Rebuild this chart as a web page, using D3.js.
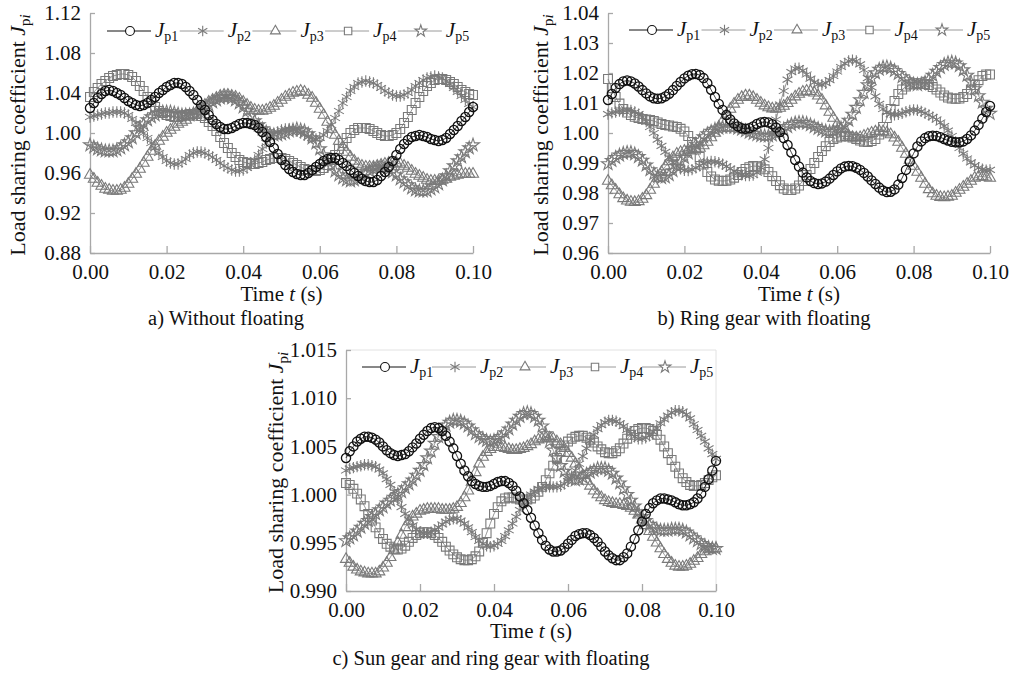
<!DOCTYPE html>
<html>
<head>
<meta charset="utf-8">
<script src="https://cdn.jsdelivr.net/npm/d3@7"></script>
<style>
  body { margin: 0; background: #fff; }
  svg { display: block; font-family: "Liberation Serif", "Times New Roman", serif; }
  text { font-family: "Liberation Serif", "Times New Roman", serif; fill: #111; }
</style>
</head>
<body>
<svg id="chart" width="1013" height="676"></svg>
<script>
// Load sharing coefficients of the five planets, sampled every 1 ms over 0–0.1 s.
const sampleStep = 0.001;
const timeTicks = [0, 0.02, 0.04, 0.06, 0.08, 0.10];
const seriesLabels = ["p1", "p2", "p3", "p4", "p5"];

// (a) Without floating
const aYTicks = [0.88, 0.92, 0.96, 1.00, 1.04, 1.08, 1.12];
const a_Jp1 = [1.025,1.030,1.035,1.039,1.042,1.043,1.042,1.040,1.038,1.035,1.032,1.030,1.028,1.027,1.028,1.030,1.033,1.036,1.040,1.043,1.046,1.048,1.050,1.050,1.049,1.046,1.042,1.038,1.033,1.028,1.023,1.018,1.013,1.009,1.006,1.004,1.004,1.005,1.007,1.009,1.010,1.010,1.009,1.008,1.005,1.001,0.996,0.991,0.985,0.979,0.973,0.968,0.964,0.961,0.959,0.958,0.958,0.960,0.963,0.966,0.969,0.972,0.974,0.975,0.975,0.973,0.970,0.967,0.963,0.960,0.957,0.954,0.952,0.951,0.951,0.953,0.957,0.961,0.966,0.972,0.978,0.984,0.989,0.993,0.996,0.997,0.998,0.997,0.996,0.994,0.993,0.992,0.993,0.995,0.999,1.003,1.007,1.012,1.016,1.021,1.026];
const a_Jp2 = [1.016,1.017,1.018,1.019,1.020,1.020,1.021,1.021,1.021,1.020,1.018,1.014,1.010,1.005,1.000,0.995,0.990,0.985,0.980,0.976,0.972,0.970,0.969,0.969,0.971,0.974,0.978,0.980,0.981,0.981,0.980,0.978,0.976,0.973,0.970,0.967,0.965,0.963,0.962,0.962,0.963,0.965,0.968,0.973,0.978,0.984,0.990,0.995,0.999,1.001,1.003,1.004,1.004,1.003,1.002,1.000,0.998,0.996,0.995,0.994,0.995,0.998,1.002,1.008,1.015,1.022,1.030,1.036,1.042,1.046,1.050,1.051,1.052,1.051,1.050,1.048,1.045,1.042,1.040,1.038,1.037,1.037,1.038,1.040,1.043,1.047,1.050,1.053,1.055,1.056,1.057,1.056,1.055,1.052,1.049,1.045,1.041,1.037,1.033,1.029,1.026];
const a_Jp3 = [0.958,0.954,0.950,0.947,0.944,0.943,0.942,0.942,0.943,0.945,0.949,0.954,0.959,0.964,0.970,0.976,0.982,0.987,0.992,0.996,1.000,1.003,1.006,1.009,1.011,1.013,1.016,1.019,1.022,1.025,1.028,1.031,1.033,1.035,1.037,1.038,1.038,1.037,1.036,1.034,1.031,1.028,1.025,1.023,1.022,1.022,1.023,1.025,1.027,1.030,1.033,1.036,1.038,1.040,1.041,1.042,1.041,1.038,1.035,1.030,1.024,1.018,1.011,1.004,0.998,0.992,0.986,0.981,0.976,0.972,0.969,0.967,0.966,0.966,0.966,0.967,0.968,0.969,0.970,0.970,0.970,0.969,0.967,0.965,0.962,0.959,0.957,0.955,0.953,0.952,0.952,0.952,0.953,0.954,0.956,0.957,0.958,0.959,0.959,0.959,0.959];
const a_Jp4 = [1.036,1.041,1.045,1.049,1.052,1.055,1.057,1.058,1.059,1.059,1.058,1.056,1.052,1.047,1.042,1.036,1.031,1.026,1.022,1.020,1.018,1.017,1.016,1.016,1.017,1.018,1.019,1.019,1.019,1.017,1.015,1.011,1.007,1.002,0.996,0.990,0.985,0.980,0.976,0.973,0.971,0.970,0.969,0.969,0.970,0.971,0.973,0.974,0.975,0.975,0.975,0.974,0.972,0.970,0.968,0.966,0.964,0.963,0.962,0.962,0.963,0.965,0.968,0.973,0.978,0.984,0.990,0.995,1.000,1.003,1.005,1.005,1.005,1.004,1.002,1.000,0.998,0.997,0.997,0.998,1.000,1.004,1.010,1.016,1.023,1.030,1.036,1.042,1.047,1.050,1.053,1.054,1.054,1.053,1.051,1.049,1.046,1.043,1.041,1.039,1.038];
const a_Jp5 = [0.988,0.986,0.984,0.983,0.982,0.982,0.982,0.983,0.985,0.988,0.991,0.995,1.000,1.005,1.009,1.013,1.016,1.018,1.020,1.021,1.021,1.021,1.020,1.019,1.018,1.018,1.018,1.019,1.020,1.022,1.025,1.028,1.031,1.033,1.035,1.036,1.036,1.035,1.033,1.030,1.026,1.022,1.017,1.012,1.008,1.004,1.001,0.999,0.998,0.998,0.999,1.000,1.002,1.003,1.004,1.003,1.002,0.999,0.995,0.990,0.984,0.978,0.972,0.967,0.962,0.958,0.955,0.953,0.952,0.953,0.954,0.956,0.959,0.962,0.964,0.965,0.966,0.965,0.964,0.961,0.958,0.954,0.951,0.948,0.945,0.943,0.942,0.942,0.942,0.944,0.946,0.949,0.953,0.957,0.962,0.967,0.972,0.976,0.981,0.985,0.988];

// (b) Ring gear with floating
const bYTicks = [0.96, 0.97, 0.98, 0.99, 1.00, 1.01, 1.02, 1.03, 1.04];
const b_Jp1 = [1.0110,1.0130,1.0150,1.0163,1.0172,1.0175,1.0172,1.0165,1.0155,1.0143,1.0132,1.0122,1.0116,1.0114,1.0116,1.0122,1.0131,1.0143,1.0157,1.0170,1.0182,1.0191,1.0196,1.0197,1.0193,1.0183,1.0166,1.0144,1.0120,1.0097,1.0077,1.0060,1.0045,1.0032,1.0022,1.0016,1.0014,1.0016,1.0022,1.0030,1.0035,1.0037,1.0035,1.0029,1.0018,1.0003,0.9983,0.9960,0.9935,0.9910,0.9888,0.9868,0.9852,0.9840,0.9833,0.9830,0.9832,0.9838,0.9848,0.9860,0.9872,0.9882,0.9888,0.9890,0.9889,0.9884,0.9877,0.9867,0.9855,0.9842,0.9830,0.9818,0.9808,0.9803,0.9804,0.9812,0.9828,0.9850,0.9877,0.9905,0.9932,0.9955,0.9972,0.9983,0.9989,0.9991,0.9990,0.9986,0.9980,0.9975,0.9971,0.9969,0.9969,0.9972,0.9980,0.9992,1.0008,1.0027,1.0048,1.0070,1.0090];
const b_Jp2 = [1.0063,1.0067,1.0070,1.0073,1.0075,1.0076,1.0075,1.0070,1.0063,1.0053,1.0038,1.0020,1.0000,0.9978,0.9957,0.9937,0.9918,0.9902,0.9890,0.9881,0.9876,0.9875,0.9878,0.9884,0.9891,0.9898,0.9903,0.9905,0.9904,0.9901,0.9896,0.9889,0.9881,0.9873,0.9866,0.9861,0.9858,0.9858,0.9860,0.9868,0.9885,0.9912,0.9950,0.9995,1.0045,1.0095,1.0140,1.0178,1.0203,1.0215,1.0216,1.0208,1.0195,1.0181,1.0169,1.0162,1.0161,1.0166,1.0176,1.0190,1.0205,1.0220,1.0232,1.0240,1.0243,1.0240,1.0229,1.0210,1.0183,1.0152,1.0122,1.0097,1.0080,1.0069,1.0063,1.0061,1.0062,1.0066,1.0071,1.0075,1.0077,1.0076,1.0072,1.0066,1.0060,1.0053,1.0045,1.0035,1.0023,1.0008,0.9990,0.9970,0.9950,0.9931,0.9915,0.9902,0.9892,0.9884,0.9879,0.9876,0.9877];
const b_Jp3 = [0.9840,0.9825,0.9810,0.9795,0.9782,0.9774,0.9770,0.9769,0.9772,0.9780,0.9792,0.9810,0.9830,0.9850,0.9870,0.9888,0.9905,0.9918,0.9930,0.9936,0.9940,0.9943,0.9945,0.9947,0.9950,0.9958,0.9970,0.9985,1.0000,1.0020,1.0040,1.0060,1.0080,1.0097,1.0110,1.0119,1.0124,1.0124,1.0119,1.0110,1.0100,1.0091,1.0085,1.0081,1.0080,1.0083,1.0090,1.0099,1.0110,1.0121,1.0130,1.0137,1.0140,1.0139,1.0134,1.0124,1.0110,1.0091,1.0070,1.0050,1.0030,1.0013,1.0000,0.9991,0.9986,0.9984,0.9985,0.9990,0.9995,1.0000,1.0004,1.0006,1.0005,1.0001,0.9995,0.9984,0.9970,0.9950,0.9930,0.9910,0.9890,0.9870,0.9850,0.9830,0.9812,0.9798,0.9790,0.9786,0.9785,0.9787,0.9790,0.9800,0.9810,0.9820,0.9830,0.9840,0.9850,0.9854,0.9855,0.9853,0.9850];
const b_Jp4 = [1.0180,1.0150,1.0120,1.0098,1.0080,1.0068,1.0060,1.0054,1.0050,1.0047,1.0045,1.0043,1.0040,1.0035,1.0030,1.0027,1.0025,1.0022,1.0020,1.0014,1.0005,0.9990,0.9970,0.9945,0.9920,0.9895,0.9870,0.9855,0.9845,0.9841,0.9840,0.9841,0.9845,0.9851,0.9860,0.9870,0.9880,0.9886,0.9890,0.9889,0.9885,0.9879,0.9870,0.9856,0.9840,0.9826,0.9815,0.9810,0.9810,0.9815,0.9825,0.9840,0.9860,0.9880,0.9900,0.9920,0.9940,0.9956,0.9970,0.9980,0.9985,0.9988,0.9990,0.9988,0.9985,0.9980,0.9975,0.9971,0.9970,0.9973,0.9980,0.9995,1.0020,1.0050,1.0080,1.0107,1.0130,1.0145,1.0155,1.0162,1.0165,1.0166,1.0165,1.0163,1.0160,1.0153,1.0145,1.0135,1.0125,1.0118,1.0115,1.0114,1.0115,1.0120,1.0130,1.0145,1.0160,1.0176,1.0190,1.0195,1.0195];
const b_Jp5 = [0.9897,0.9908,0.9918,0.9926,0.9932,0.9935,0.9935,0.9930,0.9921,0.9909,0.9893,0.9877,0.9864,0.9855,0.9851,0.9853,0.9861,0.9874,0.9889,0.9904,0.9918,0.9933,0.9948,0.9962,0.9975,0.9987,0.9997,1.0005,1.0012,1.0016,1.0019,1.0020,1.0020,1.0019,1.0016,1.0012,1.0007,1.0002,0.9998,0.9994,0.9991,0.9990,0.9990,0.9993,0.9998,1.0005,1.0013,1.0021,1.0028,1.0033,1.0035,1.0035,1.0032,1.0027,1.0021,1.0015,1.0010,1.0006,1.0004,1.0005,1.0009,1.0016,1.0027,1.0042,1.0062,1.0085,1.0110,1.0135,1.0160,1.0182,1.0200,1.0212,1.0219,1.0220,1.0216,1.0208,1.0198,1.0187,1.0177,1.0169,1.0163,1.0161,1.0163,1.0169,1.0179,1.0192,1.0205,1.0218,1.0228,1.0234,1.0236,1.0233,1.0224,1.0210,1.0192,1.0170,1.0147,1.0124,1.0102,1.0082,1.0065];

// (c) Sun gear and ring gear with floating
const cYTicks = [0.990, 0.995, 1.000, 1.005, 1.010, 1.015];
const c_Jp1 = [1.0038,1.0045,1.0050,1.0055,1.0058,1.0060,1.0060,1.0059,1.0057,1.0054,1.0050,1.0046,1.0043,1.0041,1.0040,1.0041,1.0042,1.0045,1.0049,1.0053,1.0058,1.0062,1.0066,1.0069,1.0070,1.0069,1.0066,1.0061,1.0055,1.0048,1.0040,1.0032,1.0025,1.0019,1.0014,1.0011,1.0009,1.0008,1.0008,1.0009,1.0011,1.0013,1.0014,1.0014,1.0012,1.0009,1.0004,0.9998,0.9991,0.9984,0.9976,0.9968,0.9960,0.9953,0.9947,0.9943,0.9941,0.9941,0.9942,0.9945,0.9949,0.9953,0.9957,0.9959,0.9960,0.9960,0.9958,0.9955,0.9951,0.9946,0.9941,0.9937,0.9934,0.9932,0.9932,0.9935,0.9939,0.9946,0.9954,0.9963,0.9972,0.9980,0.9986,0.9991,0.9994,0.9996,0.9996,0.9995,0.9994,0.9992,0.9990,0.9989,0.9989,0.9990,0.9992,0.9996,1.0001,1.0008,1.0016,1.0025,1.0035];
const c_Jp2 = [1.0025,1.0027,1.0028,1.0029,1.0030,1.0031,1.0031,1.0030,1.0029,1.0026,1.0022,1.0016,1.0010,1.0003,0.9995,0.9987,0.9980,0.9974,0.9968,0.9964,0.9961,0.9960,0.9960,0.9961,0.9963,0.9966,0.9969,0.9972,0.9974,0.9975,0.9975,0.9973,0.9970,0.9966,0.9961,0.9956,0.9952,0.9949,0.9947,0.9946,0.9947,0.9949,0.9952,0.9957,0.9963,0.9970,0.9977,0.9984,0.9990,0.9995,1.0000,1.0003,1.0006,1.0007,1.0008,1.0008,1.0008,1.0008,1.0009,1.0011,1.0014,1.0019,1.0025,1.0032,1.0040,1.0048,1.0056,1.0062,1.0068,1.0072,1.0075,1.0077,1.0077,1.0076,1.0074,1.0071,1.0067,1.0063,1.0060,1.0058,1.0058,1.0059,1.0061,1.0065,1.0069,1.0074,1.0078,1.0082,1.0085,1.0087,1.0087,1.0086,1.0083,1.0079,1.0073,1.0067,1.0061,1.0055,1.0048,1.0042,1.0037];
const c_Jp3 = [0.9933,0.9929,0.9925,0.9922,0.9920,0.9919,0.9918,0.9918,0.9918,0.9920,0.9924,0.9929,0.9935,0.9942,0.9950,0.9958,0.9966,0.9972,0.9977,0.9980,0.9983,0.9984,0.9985,0.9985,0.9985,0.9985,0.9984,0.9984,0.9984,0.9985,0.9987,0.9991,0.9997,1.0004,1.0013,1.0023,1.0032,1.0039,1.0044,1.0047,1.0049,1.0049,1.0049,1.0048,1.0047,1.0046,1.0046,1.0047,1.0048,1.0050,1.0052,1.0055,1.0057,1.0058,1.0059,1.0059,1.0058,1.0055,1.0052,1.0048,1.0043,1.0038,1.0032,1.0026,1.0020,1.0014,1.0009,1.0004,1.0000,0.9997,0.9994,0.9992,0.9991,0.9990,0.9990,0.9989,0.9988,0.9986,0.9983,0.9979,0.9974,0.9968,0.9962,0.9956,0.9950,0.9944,0.9938,0.9933,0.9929,0.9926,0.9925,0.9925,0.9926,0.9928,0.9931,0.9934,0.9938,0.9941,0.9943,0.9944,0.9944];
const c_Jp4 = [1.0012,1.0010,1.0006,1.0001,0.9995,0.9988,0.9980,0.9973,0.9966,0.9960,0.9954,0.9949,0.9946,0.9944,0.9943,0.9944,0.9947,0.9951,0.9955,0.9958,0.9960,0.9961,0.9961,0.9960,0.9958,0.9955,0.9951,0.9946,0.9942,0.9938,0.9935,0.9933,0.9932,0.9932,0.9933,0.9936,0.9941,0.9950,0.9960,0.9970,0.9980,0.9987,0.9993,0.9996,0.9997,0.9997,0.9996,0.9995,0.9994,0.9995,0.9996,0.9999,1.0003,1.0008,1.0015,1.0022,1.0030,1.0038,1.0045,1.0051,1.0055,1.0058,1.0060,1.0061,1.0061,1.0059,1.0057,1.0054,1.0050,1.0047,1.0044,1.0043,1.0043,1.0045,1.0048,1.0053,1.0058,1.0062,1.0066,1.0068,1.0069,1.0069,1.0068,1.0066,1.0062,1.0057,1.0050,1.0043,1.0036,1.0029,1.0022,1.0017,1.0013,1.0010,1.0009,1.0009,1.0010,1.0012,1.0015,1.0018,1.0020];
const c_Jp5 = [0.9952,0.9955,0.9958,0.9962,0.9966,0.9970,0.9973,0.9977,0.9980,0.9984,0.9987,0.9991,0.9994,0.9997,1.0000,1.0003,1.0007,1.0011,1.0015,1.0020,1.0025,1.0031,1.0038,1.0045,1.0053,1.0060,1.0067,1.0072,1.0075,1.0077,1.0077,1.0076,1.0074,1.0071,1.0067,1.0063,1.0060,1.0058,1.0056,1.0055,1.0056,1.0058,1.0060,1.0064,1.0068,1.0073,1.0077,1.0081,1.0084,1.0085,1.0084,1.0081,1.0077,1.0071,1.0063,1.0055,1.0046,1.0038,1.0030,1.0024,1.0019,1.0016,1.0015,1.0016,1.0018,1.0021,1.0023,1.0025,1.0027,1.0027,1.0027,1.0025,1.0022,1.0017,1.0012,1.0006,1.0000,0.9994,0.9988,0.9982,0.9977,0.9973,0.9969,0.9966,0.9964,0.9963,0.9963,0.9963,0.9964,0.9964,0.9964,0.9963,0.9961,0.9958,0.9955,0.9952,0.9949,0.9947,0.9945,0.9944,0.9944];

// ---- drawing ----
const svg = d3.select("#chart");
svg.append("rect").attr("width", 1013).attr("height", 676).attr("fill", "#fff");

const FONT = "'Liberation Serif', 'Times New Roman', serif";
const AXIS_COLOR = "#a8a8a8";
const GRAY = "#7a7a7a";
const DARK = "#111111";
const seriesColors = [DARK, GRAY, GRAY, GRAY, GRAY];
const symbolTypes = [d3.symbolCircle, d3.symbolAsterisk, d3.symbolTriangle2, d3.symbolSquare2, d3.symbolStar];
const symbolSizes = [66, 92, 88, 100, 52];
const legendSizes = [62, 80, 70, 70, 42];

const panels = [
  { series: [a_Jp1, a_Jp2, a_Jp3, a_Jp4, a_Jp5], yDomain: [0.88, 1.12], yTicks: aYTicks, fmt: ".2f",
    left: 90, right: 473, top: 13, bottom: 253, legendY: 31, legendX: 155, legendStep: 72.7,
    titleX: 25, timeY: 301, caption: "a) Without floating", captionX: 226, captionY: 325, frame: false },
  { series: [b_Jp1, b_Jp2, b_Jp3, b_Jp4, b_Jp5], yDomain: [0.96, 1.04], yTicks: bYTicks, fmt: ".2f",
    left: 608, right: 990, top: 13, bottom: 253, legendY: 30, legendX: 677, legendStep: 72.5,
    titleX: 548, timeY: 301, caption: "b) Ring gear with floating", captionX: 764, captionY: 325, frame: false },
  { series: [c_Jp1, c_Jp2, c_Jp3, c_Jp4, c_Jp5], yDomain: [0.990, 1.015], yTicks: cYTicks, fmt: ".3f",
    left: 346, right: 716, top: 350, bottom: 591, legendY: 367, legendX: 410, legendStep: 70,
    titleX: 283, timeY: 638, caption: "c) Sun gear and ring gear with floating", captionX: 491, captionY: 665, frame: true }
];

function styleAxis(sel) {
  sel.attr("font-family", FONT).attr("font-size", 21);
  sel.selectAll("path.domain").attr("stroke", AXIS_COLOR).attr("stroke-width", 1.3);
  sel.selectAll(".tick line").attr("stroke", AXIS_COLOR).attr("stroke-width", 1.3);
  sel.selectAll(".tick text").attr("fill", "#111");
}

panels.forEach(p => {
  const g = svg.append("g").attr("font-family", FONT);
  const x = d3.scaleLinear().domain([0, 0.1]).range([p.left, p.right]);
  const y = d3.scaleLinear().domain(p.yDomain).range([p.bottom, p.top]);

  if (p.frame) {
    g.append("path")
      .attr("d", `M${p.left},${p.top}H${p.right}V${p.bottom}`)
      .attr("fill", "none").attr("stroke", "#e2e2e2").attr("stroke-width", 1);
  }

  g.append("g")
    .attr("transform", `translate(0,${p.bottom})`)
    .call(d3.axisBottom(x).tickValues(timeTicks).tickFormat(d3.format(".2f"))
      .tickSizeInner(-7).tickSizeOuter(0).tickPadding(11))
    .call(styleAxis);

  g.append("g")
    .attr("transform", `translate(${p.left},0)`)
    .call(d3.axisLeft(y).tickValues(p.yTicks).tickFormat(d3.format(p.fmt))
      .tickSizeInner(-5).tickSizeOuter(0).tickPadding(9))
    .call(styleAxis);

  // series: lines with dense markers, J_p1 drawn last so it sits on top
  const line = d3.line().x((d, i) => x(i * sampleStep)).y(d => y(d));
  [4, 3, 2, 1, 0].forEach(k => {
    const data = p.series[k];
    g.append("path").datum(data).attr("d", line)
      .attr("fill", "none").attr("stroke", seriesColors[k]).attr("stroke-width", 0.8);
    const sym = d3.symbol().type(symbolTypes[k]).size(symbolSizes[k]);
    g.append("g").selectAll("path").data(data).join("path")
      .attr("transform", (d, i) => `translate(${x(i * sampleStep)},${y(d)})`)
      .attr("d", sym)
      .attr("fill", "none")
      .attr("stroke", seriesColors[k])
      .attr("stroke-width", k === 0 ? 1.3 : 1.1);
  });

  // legend
  const lg = g.append("g");
  seriesLabels.forEach((lab, k) => {
    const tx = p.legendX + k * p.legendStep;
    lg.append("line").attr("x1", tx - 48).attr("x2", tx - 4)
      .attr("y1", p.legendY).attr("y2", p.legendY)
      .attr("stroke", k === 0 ? DARK : "#9a9a9a").attr("stroke-width", 1);
    lg.append("path")
      .attr("transform", `translate(${tx - 25},${p.legendY})`)
      .attr("d", d3.symbol().type(symbolTypes[k]).size(legendSizes[k]))
      .attr("fill", "#fff").attr("stroke", seriesColors[k]).attr("stroke-width", 1.1);
    const t = lg.append("text").attr("x", tx).attr("y", p.legendY + 5.5).style("font-size", "21px");
    t.append("tspan").attr("font-style", "italic").text("J");
    t.append("tspan").attr("dy", 4.5).style("font-size", "14px").text(lab);
  });

  // axis titles
  const yt = g.append("text")
    .attr("transform", `translate(${p.titleX},${(p.top + p.bottom) / 2 + 2}) rotate(-90)`)
    .attr("text-anchor", "middle").style("font-size", "22px");
  yt.append("tspan").text("Load sharing coefficient ");
  yt.append("tspan").attr("font-style", "italic").text("J");
  yt.append("tspan").attr("dy", 5).style("font-size", "15px").text("p");
  yt.append("tspan").attr("font-style", "italic").style("font-size", "15px").text("i");

  const xt = g.append("text").attr("x", (p.left + p.right) / 2).attr("y", p.timeY)
    .attr("text-anchor", "middle").style("font-size", "21px");
  xt.append("tspan").text("Time ");
  xt.append("tspan").attr("font-style", "italic").text("t");
  xt.append("tspan").text(" (s)");

  g.append("text").attr("x", p.captionX).attr("y", p.captionY)
    .attr("text-anchor", "middle").style("font-size", "20.5px").text(p.caption);
});
</script>
</body>
</html>
